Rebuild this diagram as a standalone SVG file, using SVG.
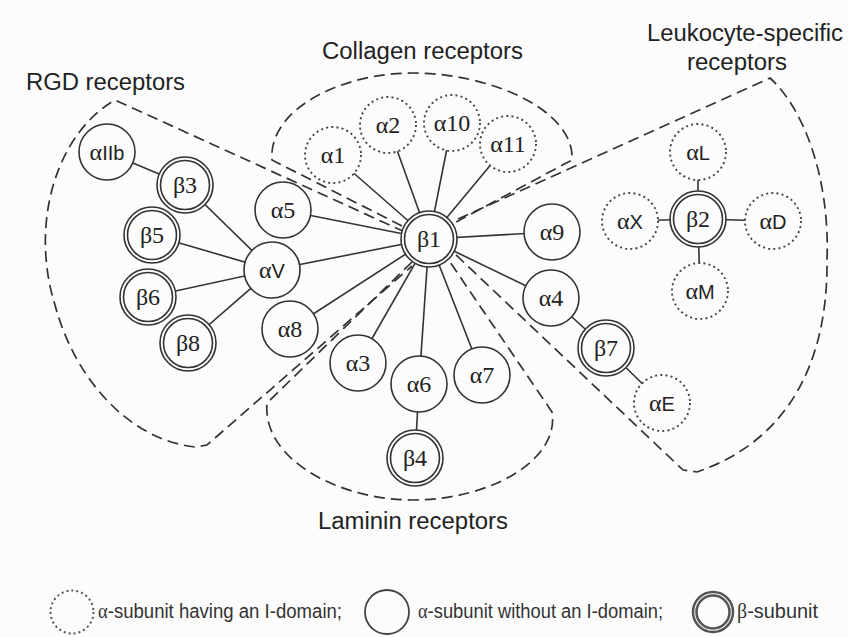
<svg xmlns="http://www.w3.org/2000/svg" width="848" height="637" viewBox="0 0 848 637">
<style>
.bg{fill:#fcfcfc}
.n{fill:#fcfcfc;stroke:#333;stroke-width:1.6}
.d{fill:#fcfcfc;stroke:#444;stroke-width:1.9;stroke-dasharray:2 3.2}
.e{stroke:#333;stroke-width:1.6;fill:none}
.r{fill:none;stroke:#333;stroke-width:1.7;stroke-dasharray:11 6}
.t{font-family:"Liberation Serif","DejaVu Serif","Times New Roman",serif;font-size:24px;fill:#222;text-anchor:middle}
.s{font-family:"Liberation Sans",Arial,sans-serif;font-size:20px}
.h{font-family:"Liberation Sans",Arial,sans-serif;font-size:23px;fill:#222}
.l{font-family:"Liberation Sans",Arial,sans-serif;font-size:20px;fill:#333}
.g{font-family:"Liberation Serif","DejaVu Serif",serif}
</style>
<rect class="bg" x="0" y="0" width="848" height="637"/>

<g id="regions">
<path id="rgd" class="r" d="M405,232 L115,100 C55,135 30,225 55,305 C75,380 130,440 195,447 L207,445 L412,266"/>
<path id="collagen" class="r" d="M402,226 L272,160 C268,110 340,73 413,73 C490,73 575,110 572,160 L456,222"/>
<path id="leukocyte" class="r" d="M458,219 L770,78 C805,110 830,180 827,260 C828,360 790,440 697,472 L683,470 L455,254"/>
<path id="laminin" class="r" d="M412,262 L267,403 C262,460 340,500 413,500 C490,500 560,460 552,412 L450,262"/>
</g>

<g id="labels">
<text class="h" x="26" y="90" textLength="159" lengthAdjust="spacingAndGlyphs">RGD receptors</text>
<text class="h" x="322" y="59" textLength="201" lengthAdjust="spacingAndGlyphs">Collagen receptors</text>
<text class="h" x="647" y="41" textLength="196" lengthAdjust="spacingAndGlyphs">Leukocyte-specific</text>
<text class="h" x="687" y="70" textLength="100" lengthAdjust="spacingAndGlyphs">receptors</text>
<text class="h" x="318" y="529" textLength="190" lengthAdjust="spacingAndGlyphs">Laminin receptors</text>
</g>

<g id="connectors">
<line class="e" x1="429" y1="239" x2="333" y2="155"/>
<line class="e" x1="429" y1="239" x2="388" y2="125"/>
<line class="e" x1="429" y1="239" x2="452" y2="123"/>
<line class="e" x1="429" y1="239" x2="508" y2="144"/>
<line class="e" x1="429" y1="239" x2="283" y2="210"/>
<line class="e" x1="429" y1="239" x2="552" y2="232"/>
<line class="e" x1="429" y1="239" x2="272" y2="270"/>
<line class="e" x1="429" y1="239" x2="290" y2="329"/>
<line class="e" x1="429" y1="239" x2="358" y2="363"/>
<line class="e" x1="429" y1="239" x2="419" y2="384"/>
<line class="e" x1="429" y1="239" x2="482" y2="375"/>
<line class="e" x1="429" y1="239" x2="551" y2="298"/>
<line class="e" x1="107" y1="152" x2="185" y2="185"/>
<line class="e" x1="185" y1="185" x2="272" y2="270"/>
<line class="e" x1="152" y1="235" x2="272" y2="270"/>
<line class="e" x1="148" y1="297" x2="272" y2="270"/>
<line class="e" x1="188" y1="343" x2="272" y2="270"/>
<line class="e" x1="419" y1="384" x2="415" y2="458"/>
<line class="e" x1="551" y1="298" x2="606" y2="348"/>
<line class="e" x1="606" y1="348" x2="662" y2="403"/>
<line class="e" x1="698" y1="219" x2="698" y2="152"/>
<line class="e" x1="698" y1="219" x2="630" y2="221"/>
<line class="e" x1="698" y1="219" x2="773" y2="221"/>
<line class="e" x1="698" y1="219" x2="700" y2="291"/>
</g>

<g id="b1"><circle class="n" cx="429" cy="239" r="28"/><circle class="n" cx="429" cy="239" r="24.5"/><text class="t" x="429" y="247">β1</text></g>
<g id="a1"><circle class="d" cx="333" cy="155" r="28"/><text class="t" x="333" y="163">α1</text></g>
<g id="a2"><circle class="d" cx="388" cy="125" r="28"/><text class="t" x="388" y="133">α2</text></g>
<g id="a10"><circle class="d" cx="452" cy="123" r="28"/><text class="t" x="452" y="131">α10</text></g>
<g id="a11"><circle class="d" cx="508" cy="144" r="28"/><text class="t" x="508" y="152">α11</text></g>
<g id="a5"><circle class="n" cx="283" cy="210" r="28"/><text class="t" x="283" y="218">α5</text></g>
<g id="a9"><circle class="n" cx="552" cy="232" r="28"/><text class="t" x="552" y="240">α9</text></g>
<g id="aV"><circle class="n" cx="272" cy="270" r="28"/><text class="t" x="272" y="278">α<tspan class="s">V</tspan></text></g>
<g id="a8"><circle class="n" cx="290" cy="329" r="28"/><text class="t" x="290" y="337">α8</text></g>
<g id="a3"><circle class="n" cx="358" cy="363" r="28"/><text class="t" x="358" y="371">α3</text></g>
<g id="a6"><circle class="n" cx="419" cy="384" r="28"/><text class="t" x="419" y="392">α6</text></g>
<g id="a7"><circle class="n" cx="482" cy="375" r="28"/><text class="t" x="482" y="383">α7</text></g>
<g id="b4"><circle class="n" cx="415" cy="458" r="28"/><circle class="n" cx="415" cy="458" r="24.5"/><text class="t" x="415" y="466">β4</text></g>
<g id="a4"><circle class="n" cx="551" cy="298" r="28"/><text class="t" x="551" y="306">α4</text></g>
<g id="b7"><circle class="n" cx="606" cy="348" r="28"/><circle class="n" cx="606" cy="348" r="24.5"/><text class="t" x="606" y="356">β7</text></g>
<g id="aE"><circle class="d" cx="662" cy="403" r="28"/><text class="t" x="662" y="411">α<tspan class="s">E</tspan></text></g>
<g id="aIIb"><circle class="n" cx="107" cy="152" r="28"/><text class="t" x="107" y="160">α<tspan class="s">IIb</tspan></text></g>
<g id="b3"><circle class="n" cx="185" cy="185" r="28"/><circle class="n" cx="185" cy="185" r="24.5"/><text class="t" x="185" y="193">β3</text></g>
<g id="b5"><circle class="n" cx="152" cy="235" r="28"/><circle class="n" cx="152" cy="235" r="24.5"/><text class="t" x="152" y="243">β5</text></g>
<g id="b6"><circle class="n" cx="148" cy="297" r="28"/><circle class="n" cx="148" cy="297" r="24.5"/><text class="t" x="148" y="305">β6</text></g>
<g id="b8"><circle class="n" cx="188" cy="343" r="28"/><circle class="n" cx="188" cy="343" r="24.5"/><text class="t" x="188" y="351">β8</text></g>
<g id="aL"><circle class="d" cx="698" cy="152" r="28"/><text class="t" x="698" y="160">α<tspan class="s">L</tspan></text></g>
<g id="b2"><circle class="n" cx="698" cy="219" r="28"/><circle class="n" cx="698" cy="219" r="24.5"/><text class="t" x="698" y="227">β2</text></g>
<g id="aX"><circle class="d" cx="630" cy="221" r="28"/><text class="t" x="630" y="229">α<tspan class="s">X</tspan></text></g>
<g id="aD"><circle class="d" cx="773" cy="221" r="28"/><text class="t" x="773" y="229">α<tspan class="s">D</tspan></text></g>
<g id="aM"><circle class="d" cx="700" cy="291" r="28"/><text class="t" x="700" y="299">α<tspan class="s">M</tspan></text></g>

<g id="legend">
<circle cx="72" cy="612" r="21.5" fill="none" stroke="#555" stroke-width="2" stroke-dasharray="2 3"/>
<text class="l" x="98" y="618" textLength="244" lengthAdjust="spacingAndGlyphs"><tspan class="g">α</tspan>-subunit having an I-domain;</text>
<circle cx="387" cy="612" r="22" fill="none" stroke="#444" stroke-width="1.8"/>
<text class="l" x="418" y="618" textLength="245" lengthAdjust="spacingAndGlyphs"><tspan class="g">α</tspan>-subunit without an I-domain;</text>
<circle cx="713" cy="612" r="20" fill="none" stroke="#555" stroke-width="2.5"/>
<circle cx="713" cy="612" r="16.5" fill="none" stroke="#555" stroke-width="2.5"/>
<text class="l" x="737" y="618" textLength="81" lengthAdjust="spacingAndGlyphs"><tspan class="g">β</tspan>-subunit</text>
</g>
</svg>
